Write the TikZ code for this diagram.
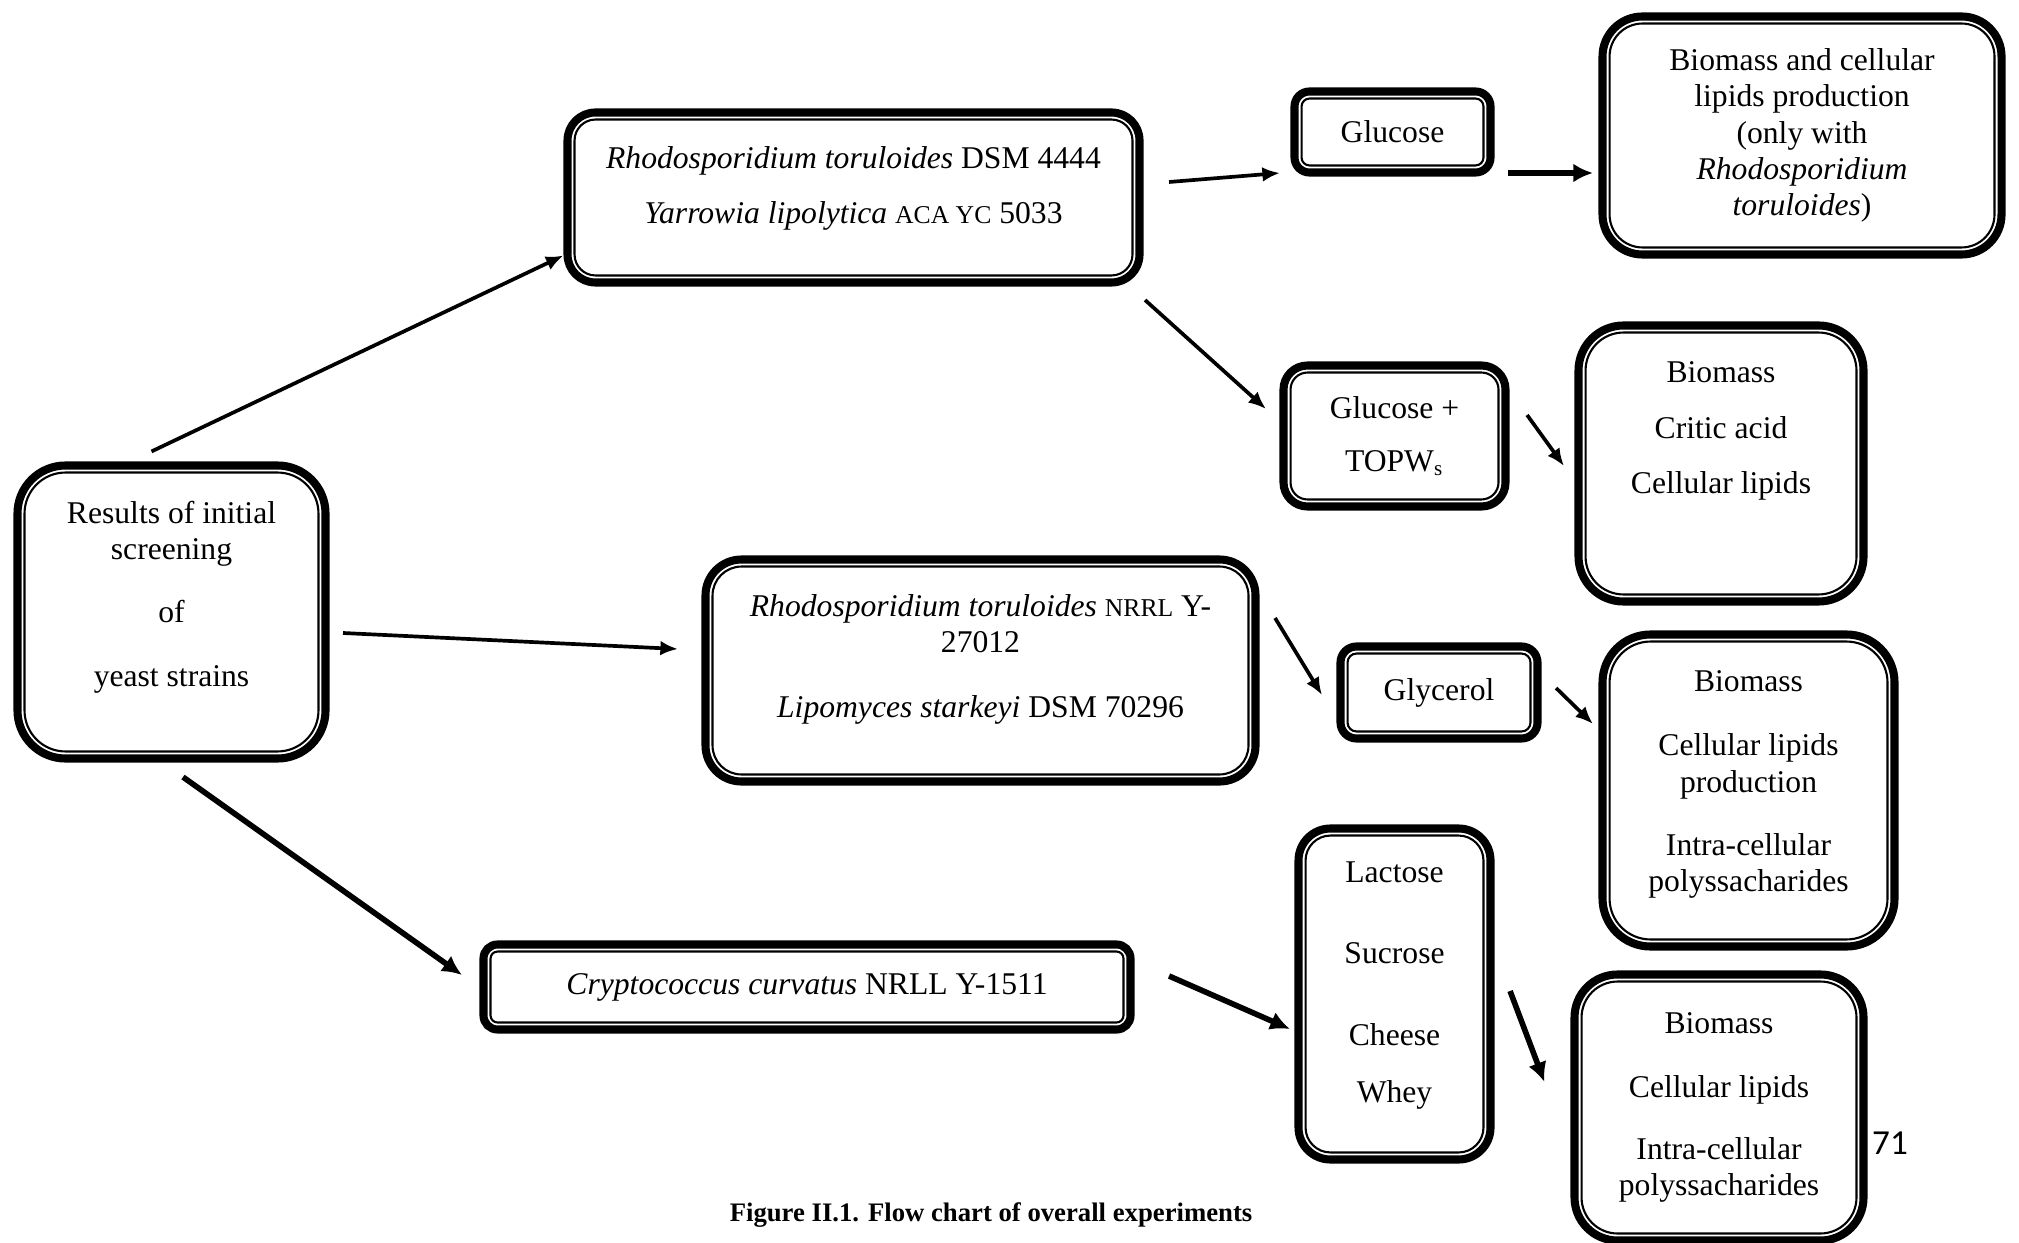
\documentclass[tikz,border=0pt]{standalone}
\usepackage{fontspec}
\setmainfont{Liberation Serif}
\newfontfamily\pagenumfont{Carlito}
\usepackage{tikz}
\usetikzlibrary{arrows.meta,positioning}

\newcommand{\smc}[1]{{\fontsize{7.3}{8}\selectfont #1}}

\begin{document}
\begin{tikzpicture}[
  every node/.style={align=center, font=\fontsize{9}{10.3}\selectfont},
  dbox/.style={draw=black, line width=2.3pt, rounded corners=#1, inner sep=0pt,
    path picture={\draw[line width=0.6pt, rounded corners=#1-2pt]
      ([shift={(2pt,2pt)}]path picture bounding box.south west) rectangle
      ([shift={(-2pt,-2pt)}]path picture bounding box.north east);}},
  arrow/.style={-{Latex[length=5pt, width=4.2pt]}, line width=1.05pt},
  bigarrow/.style={-{Latex[length=5.6pt, width=5.4pt]}, line width=1.6pt}
]
\useasboundingbox (0,0) rectangle (20.19,-12.42);

% --- STARTING BOX ---
\node[dbox=0.48cm, minimum width=3.08cm, minimum height=2.93cm] (start) at (1.715,-6.12)
  {Results of initial\\ screening\\[7.5pt] of\\[8pt] yeast strains\\[0pt]};

% --- STRAINS ---
\node[dbox=0.28cm, minimum width=5.72cm, minimum height=1.70cm] (rhodo) at (8.535,-1.975)
  {\textit{Rhodosporidium toruloides} DSM 4444\\[5.3pt] \textit{Yarrowia lipolytica} \smc{ACA YC} 5033\\[-3pt]};
\node[dbox=0.36cm, minimum width=5.50cm, minimum height=2.22cm] (lipo) at (9.805,-6.705)
  {\textit{Rhodosporidium toruloides} \smc{NRRL} Y-\\ 27012\\[8pt] \textit{Lipomyces starkeyi} DSM 70296\\[-2pt]};
\node[dbox=0.14cm, minimum width=6.47cm, minimum height=0.85cm] (crypto) at (8.07,-9.87)
  {\textit{Cryptococcus curvatus} NRLL Y-1511};

\draw[arrow] ([xshift=-0.2cm, yshift=0.1cm]start.north) -- ([yshift=-0.58cm]rhodo.west);
\draw[arrow] ([xshift=0.135cm, yshift=-0.21cm]start.east) -- ([xshift=-0.235cm, yshift=0.215cm]lipo.west);
\draw[bigarrow] ([xshift=0.115cm, yshift=-0.145cm]start.south) -- ([xshift=-0.175cm, yshift=0.12cm]crypto.west);

% --- SUBSTRATES ---
\node[dbox=0.15cm, minimum width=1.96cm, minimum height=0.81cm] (glucose) at (13.925,-1.32) {Glucose};
\node[dbox=0.24cm, minimum width=2.22cm, minimum height=1.41cm] (topw) at (13.945,-4.36)
  {Glucose +\\[5pt] TOPW\textsubscript{s}};
\node[dbox=0.16cm, minimum width=1.97cm, minimum height=0.92cm] (glycerol) at (14.39,-6.925) {Glycerol};
\node[dbox=0.32cm, minimum width=1.92cm, minimum height=3.31cm] (whey) at (13.945,-9.94)
  {Lactose\\[12.8pt] Sucrose\\[13pt] Cheese\\[6pt] Whey\\[-3.5pt]};

\draw[arrow] ([xshift=0.255cm, yshift=0.155cm]rhodo.east) -- ([xshift=-0.105cm, yshift=-0.41cm]glucose.west);
\draw[arrow] ([xshift=0.015cm, yshift=-0.135cm]rhodo.south east) -- ([xshift=-0.135cm, yshift=0.27cm]topw.west);
\draw[arrow] ([xshift=0.155cm, yshift=0.525cm]lipo.east) -- ([xshift=-0.145cm, yshift=-0.025cm]glycerol.west);
\draw[bigarrow] ([xshift=0.345cm, yshift=0.11cm]crypto.east) -- ([xshift=-0.045cm, yshift=-0.35cm]whey.west);

% --- RESULTS ---
\node[dbox=0.40cm, minimum width=3.99cm, minimum height=2.38cm] (res1) at (18.02,-1.355)
  {Biomass and cellular\\ lipids production\\ (only with\\ \textit{Rhodosporidium}\\ \textit{toruloides})};
\node[dbox=0.45cm, minimum width=2.85cm, minimum height=2.76cm] (res2) at (17.21,-4.635)
  {Biomass\\[5.5pt] Critic acid\\[5.5pt] Cellular lipids\\[10pt]};
\node[dbox=0.48cm, minimum width=2.92cm, minimum height=3.12cm] (res3) at (17.485,-7.905)
  {Biomass\\[8pt] Cellular lipids\\ production\\[7.7pt] Intra-cellular\\ polyssacharides\\[-5pt]};
\node[dbox=0.43cm, minimum width=2.89cm, minimum height=2.66cm] (res4) at (17.19,-11.075)
  {Biomass\\[8pt] Cellular lipids\\[7.3pt] Intra-cellular\\ polyssacharides};

\draw[bigarrow] ([xshift=0.135cm, yshift=-0.41cm]glucose.east) -- ([xshift=-0.055cm, yshift=-0.375cm]res1.west);
\draw[arrow] ([xshift=0.175cm, yshift=0.21cm]topw.east) -- ([xshift=-0.105cm, yshift=-0.025cm]res2.west);
\draw[arrow] ([xshift=0.145cm, yshift=0.045cm]glycerol.east) -- ([xshift=-0.055cm, yshift=0.665cm]res3.west);
\draw[bigarrow] ([xshift=0.155cm, yshift=0.03cm]whey.east) -- ([xshift=-0.26cm, yshift=0.255cm]res4.west);

% --- PAGE NUMBER AND CAPTION ---
\node[font=\pagenumfont\fontsize{10}{12}\selectfont] (pagenum) at (18.9,-11.43) {71};
\node[font=\fontsize{7.6}{9}\selectfont\bfseries] (caption) at (9.91,-12.15)
  {Figure II.1. Flow chart of overall experiments};

\end{tikzpicture}
\end{document}
